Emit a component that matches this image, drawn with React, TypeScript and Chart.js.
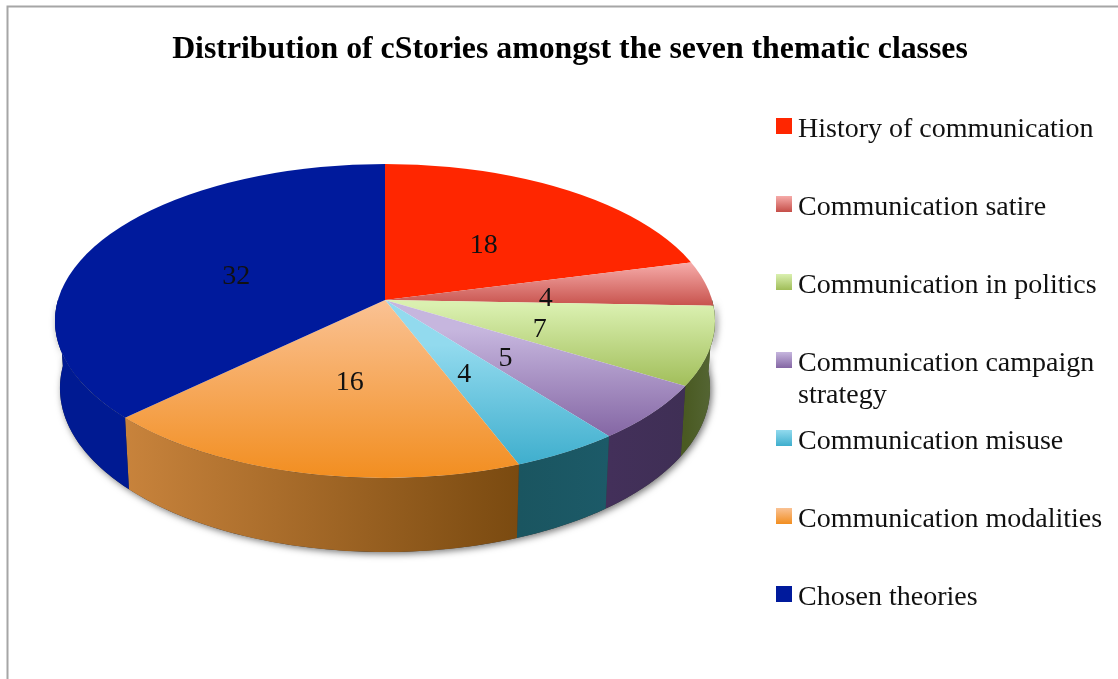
import React, { useEffect, useRef } from "react";
import { Chart, registerables } from "chart.js";

Chart.register(...registerables);

const categories = [
  "History of communication",
  "Communication satire",
  "Communication in politics",
  "Communication campaign strategy",
  "Communication misuse",
  "Communication modalities",
  "Chosen theories",
];
const values = [18, 4, 7, 5, 4, 16, 32];
const titleText = "Distribution of cStories amongst the seven thematic classes";
const baseColors = ["#FF2600", "#E07A76", "#BCD68A", "#A48CC0", "#6CC6DE", "#F6A65A", "#001A9C"];
const faceTop = ["#FF2600", "#F6ABA9", "#DAF0B0", "#C6B6DE", "#92DAEE", "#FAC294", "#001A9C"];
const faceBottom = ["#FF2600", "#C54E48", "#A0BD58", "#8466A4", "#3EAECD", "#F28E20", "#001A9C"];
const faceY0 = [164, 263, 305, 330, 345, 300, 164];
const faceY1 = [300, 308, 388, 437, 466, 478, 420];
const wallLeft = ["#4A5A22", "#4A5A22", "#4A5A22", "#43305A", "#1A5560", "#C8833C", "#001A92"];
const wallRight = ["#556635", "#556635", "#556635", "#3F2F55", "#1C5A68", "#7A4A10", "#001A92"];

const FONT = "'Liberation Serif'";
// Where the pie's apex sits, the direction scale of its rays, and the tilted rim they end on.
const APEX_X = 385, APEX_Y = 300, RAY_X = 330, RAY_Y = 155, OVERSCAN = 1.35;
const RIM_X = 385, RIM_Y = 321, RIM_RX = 330, RIM_RY = 157;

const topPt = (a: number) => {
  const dx = RAY_X * Math.cos(a);
  const dy = RAY_Y * Math.sin(a);
  const oy = APEX_Y - RIM_Y;
  const A = (dx * dx) / (RIM_RX * RIM_RX) + (dy * dy) / (RIM_RY * RIM_RY);
  const B = (2 * oy * dy) / (RIM_RY * RIM_RY);
  const C = (oy * oy) / (RIM_RY * RIM_RY) - 1;
  const t = (-B + Math.sqrt(B * B - 4 * A * C)) / (2 * A);
  return [APEX_X + t * dx, APEX_Y + t * dy];
};
const botPt = (a: number) => {
  const p = topPt(a);
  return [RIM_X + (p[0] - RIM_X) * 0.985, p[1] + 66 + 8 * Math.sin(a)];
};

function wallPath(ctx: CanvasRenderingContext2D, a0: number, a1: number) {
  ctx.beginPath();
  const n = 60;
  for (let i = 0; i <= n; i++) {
    const p = topPt(a0 + ((a1 - a0) * i) / n);
    i ? ctx.lineTo(p[0], p[1]) : ctx.moveTo(p[0], p[1]);
  }
  for (let i = n; i >= 0; i--) {
    const p = botPt(a0 + ((a1 - a0) * i) / n);
    ctx.lineTo(p[0], p[1]);
  }
  ctx.closePath();
}

const pie3d = {
  id: "pie3d",
  beforeDraw(chart: any) {
    const ctx = chart.ctx;
    ctx.save();
    ctx.fillStyle = "#ffffff";
    ctx.fillRect(0, 0, chart.width, chart.height);
    ctx.strokeStyle = "#A6A6A6";
    ctx.lineWidth = 2;
    ctx.beginPath();
    ctx.moveTo(7.5, chart.height + 2);
    ctx.lineTo(7.5, 6.5);
    ctx.lineTo(chart.width + 2, 6.5);
    ctx.stroke();
    ctx.restore();
  },
  beforeDatasetsDraw(chart: any) {
    const ctx = chart.ctx as CanvasRenderingContext2D;
    const arcs = chart.getDatasetMeta(0).data as any[];

    ctx.save();
    ctx.shadowColor = "rgba(0,0,0,0.55)";
    ctx.shadowBlur = 7;
    ctx.shadowOffsetX = 2;
    ctx.shadowOffsetY = 2;
    ctx.fillStyle = "#333";
    wallPath(ctx, 0, Math.PI);
    ctx.fill();
    ctx.restore();

    arcs.forEach((el, i) => {
      const a0 = Math.max(el.startAngle, 0);
      const a1 = Math.min(el.endAngle, Math.PI);
      if (a1 <= a0) return;
      const g = ctx.createLinearGradient(topPt(a1)[0], 0, topPt(a0)[0], 0);
      g.addColorStop(0, wallLeft[i]);
      g.addColorStop(1, wallRight[i]);
      ctx.fillStyle = g;
      wallPath(ctx, a0, a1);
      ctx.fill();
    });

    ctx.save();
    ctx.beginPath();
    ctx.ellipse(RIM_X, RIM_Y, RIM_RX, RIM_RY, 0, 0, Math.PI * 2);
    ctx.clip();
    arcs.forEach((el, i) => {
      const R = el.outerRadius;
      const sy = (RAY_Y * OVERSCAN) / R;
      const toChart = (y: number) => el.y + (y - APEX_Y) / sy;
      const grad = ctx.createLinearGradient(0, toChart(faceY0[i]), 0, toChart(faceY1[i]));
      grad.addColorStop(0, faceTop[i]);
      grad.addColorStop(1, faceBottom[i]);
      const saved = el.options;
      el.options = { ...saved, backgroundColor: grad, borderWidth: 0 };
      ctx.save();
      ctx.translate(APEX_X, APEX_Y);
      ctx.scale((RAY_X * OVERSCAN) / R, sy);
      ctx.translate(-el.x, -el.y);
      el.draw(ctx);
      ctx.restore();
      el.options = saved;
    });
    ctx.restore();
    return false;
  },
  afterDraw(chart: any) {
    const ctx = chart.ctx as CanvasRenderingContext2D;
    const arcs = chart.getDatasetMeta(0).data as any[];
    ctx.save();
    ctx.fillStyle = "#111111";
    ctx.textAlign = "center";
    ctx.textBaseline = "middle";
    ctx.font = `28px ${FONT}`;
    arcs.forEach((el, i) => {
      const mid = (el.startAngle + el.endAngle) / 2;
      const x = APEX_X + 0.49 * RAY_X * Math.cos(mid);
      const y = APEX_Y + 7 + 0.5 * RAY_Y * Math.sin(mid);
      ctx.fillText(String(values[i]), x, y);
    });

    ctx.textAlign = "left";
    ctx.textBaseline = "alphabetic";
    ctx.font = `28px ${FONT}`;
    categories.forEach((label, i) => {
      const rowY = 137 + 78 * i;
      const box = ctx.createLinearGradient(0, rowY - 19, 0, rowY - 3);
      box.addColorStop(0, faceTop[i]);
      box.addColorStop(1, faceBottom[i]);
      ctx.fillStyle = box;
      ctx.fillRect(776, rowY - 19, 16, 16);
      ctx.fillStyle = "#111111";
      const words = label.split(" ");
      const lines: string[] = [];
      let line = "";
      words.forEach((w) => {
        const t = line ? line + " " + w : w;
        if (ctx.measureText(t).width > 312 && line) {
          lines.push(line);
          line = w;
        } else line = t;
      });
      lines.push(line);
      lines.forEach((l, k) => ctx.fillText(l, 798, rowY + k * 32));
    });
    ctx.restore();
  },
};

export default function App() {
  const ref = useRef<HTMLCanvasElement>(null);
  useEffect(() => {
    document.body.style.margin = "0";
    const chart = new Chart(ref.current as HTMLCanvasElement, {
      type: "pie",
      data: {
        labels: categories,
        datasets: [{ data: values, backgroundColor: baseColors, borderWidth: 0 }],
      },
      options: {
        animation: false,
        responsive: false,
        layout: { padding: { left: 22, top: 31 } },
        plugins: {
          legend: { display: false },
          tooltip: { enabled: false },
          title: {
            display: true,
            text: titleText,
            color: "#000000",
            font: { family: FONT, size: 31.8, weight: "bold" },
            padding: { top: 0, bottom: 10 },
          },
        },
      },
      plugins: [pie3d],
    } as any);
    return () => chart.destroy();
  }, []);
  return (
    <div style={{ position: "fixed", left: 0, top: 0, width: 1118, height: 679, overflow: "hidden" }}>
      <canvas ref={ref} width={1118} height={679} style={{ display: "block", width: 1118, height: 679 }} />
    </div>
  );
}
